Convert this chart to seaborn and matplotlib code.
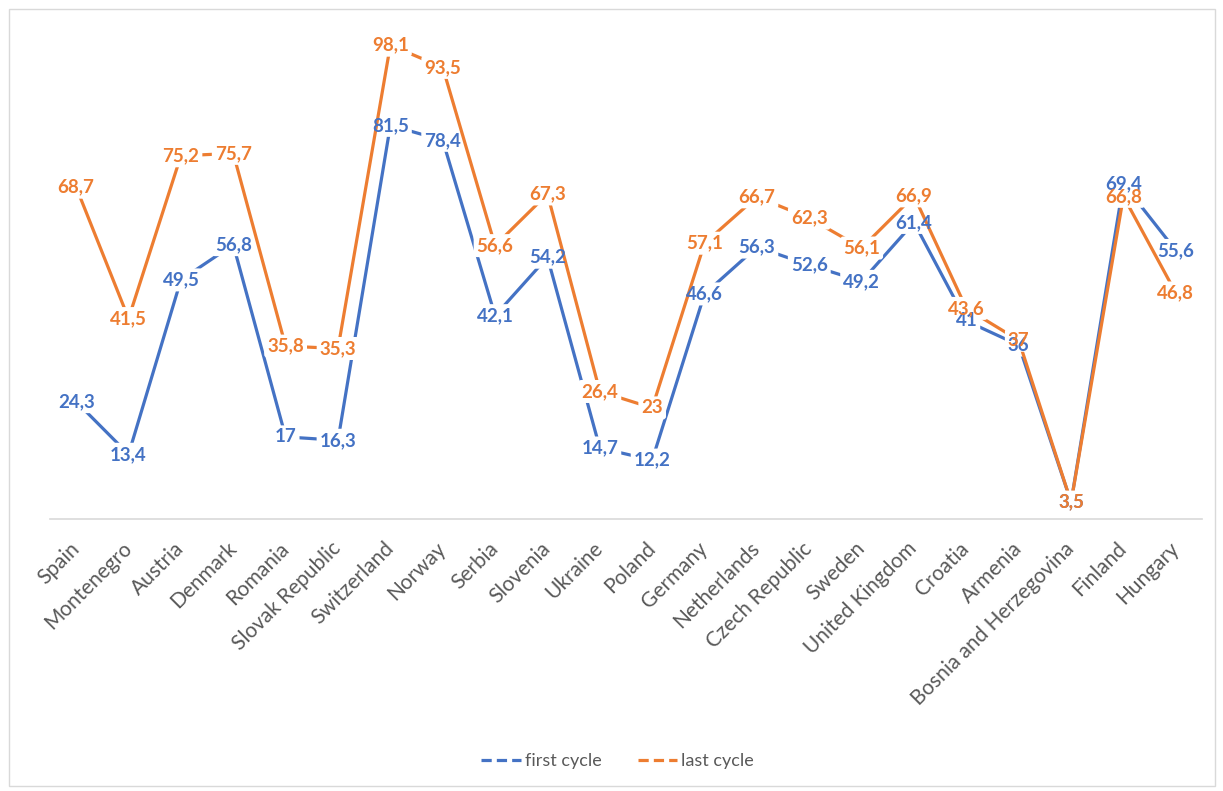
import numpy as np
import pandas as pd
import matplotlib
matplotlib.use("Agg")
import matplotlib.pyplot as plt
from matplotlib.lines import Line2D
from matplotlib.patches import Rectangle, FancyBboxPatch
from matplotlib.transforms import IdentityTransform
import seaborn as sns

countries = ["Spain", "Montenegro", "Austria", "Denmark", "Romania", "Slovak Republic",
             "Switzerland", "Norway", "Serbia", "Slovenia", "Ukraine", "Poland",
             "Germany", "Netherlands", "Czech Republic", "Sweden", "United Kingdom",
             "Croatia", "Armenia", "Bosnia and Herzegovina", "Finland", "Hungary"]
first_cycle = [24.3, 13.4, 49.5, 56.8, 17, 16.3, 81.5, 78.4, 42.1, 54.2, 14.7, 12.2,
               46.6, 56.3, 52.6, 49.2, 61.4, 41, 36, 3.5, 69.4, 55.6]
last_cycle = [68.7, 41.5, 75.2, 75.7, 35.8, 35.3, 98.1, 93.5, 56.6, 67.3, 26.4, 23,
              57.1, 66.7, 62.3, 56.1, 66.9, 43.6, 37, 3.5, 66.8, 46.8]
series_names = ["first cycle", "last cycle"]
colors = ["#4472C4", "#ED7D31"]

sns.set_theme(style="white")
plt.rcParams["font.family"] = ["Lato", "DejaVu Sans"]

pos = np.arange(len(countries))
df = pd.DataFrame({
    "pos": np.concatenate([pos, pos]),
    "value": first_cycle + last_cycle,
    "series": [series_names[0]] * len(pos) + [series_names[1]] * len(pos),
})

fig = plt.figure(figsize=(12.23, 7.91), dpi=100)
ax = fig.add_axes([50 / 1223, 1 - 519 / 791, 1152 / 1223, (519 - 36) / 791])

sns.lineplot(data=df, x="pos", y="value", hue="series", palette=colors,
             linewidth=2.3, sort=False, legend=False, ax=ax)

ax.set_xlim(-0.5, len(countries) - 0.5)
ax.set_ylim(0, 100)
ax.set_yticks([])
ax.set_xticks(pos)
ax.set_xticklabels(countries, rotation=45, ha="right", va="center",
                   rotation_mode="anchor", fontsize=15, color="#595959")
ax.tick_params(axis="x", length=0, pad=19)
ax.set_xlabel("")
ax.set_ylabel("")
for side in ["top", "right", "left"]:
    ax.spines[side].set_visible(False)
ax.spines["bottom"].set_color("#D9D9D9")
ax.spines["bottom"].set_linewidth(1.2)
ax.spines["bottom"].set_zorder(1)

# value labels: text on top, white backing under it that breaks the lines
labels = []
for k, (vals, col) in enumerate(zip([first_cycle, last_cycle], colors)):
    ax.lines[k].set_zorder(2 + 2 * k)
    ax.lines[k].set_solid_capstyle("butt")
    for x, v in zip(pos, vals):
        txt = f"{v:g}".replace(".", ",")
        t = ax.text(x, v, txt, ha="center", va="center", fontsize=13.5,
                    fontweight="bold", color=col, zorder=10 + k)
        labels.append((t, 3 + 2 * k))

fig.canvas.draw()
renderer = fig.canvas.get_renderer()
for t, z in labels:
    bb = t.get_window_extent(renderer)
    pad = 3
    ax.add_patch(FancyBboxPatch((bb.x0, bb.y0), bb.width, bb.height,
                                boxstyle=f"round,pad={pad}", fc="white", ec="none",
                                transform=IdentityTransform(), zorder=z,
                                clip_on=False))

handles = [Line2D([0], [0], color=c, linewidth=2.3, dashes=(3.2, 1.6)) for c in colors]
fig.legend(handles, series_names, loc="center", bbox_to_anchor=(0.505, 1 - 761 / 791),
           ncol=2, frameon=False, fontsize=13, labelcolor="#595959",
           handlelength=2.2, handletextpad=0.2, columnspacing=2.0)

fig.patches.append(Rectangle((9 / 1223, 1 - 786 / 791), 1206 / 1223, 777 / 791,
                             transform=fig.transFigure, fill=False,
                             ec="#D9D9D9", lw=1.0))

fig.savefig("out.png", dpi=100, facecolor="white")
